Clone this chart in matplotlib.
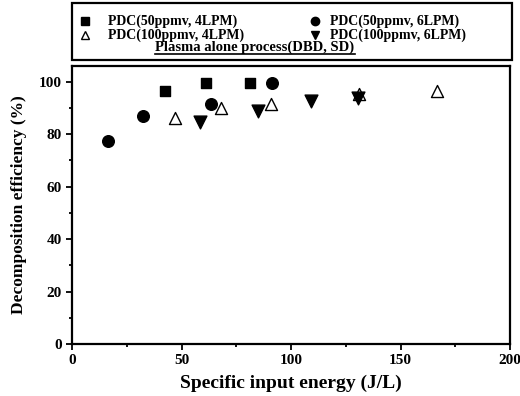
import matplotlib
matplotlib.use("Agg")
import matplotlib.pyplot as plt
from matplotlib.patches import Rectangle
from matplotlib.lines import Line2D
from matplotlib.ticker import MultipleLocator

# Data
sq_x = [42.4, 61.0, 81.2]
sq_y = [96.6, 99.7, 99.7]
ci_x = [16.4, 32.6, 63.3, 91.4]
ci_y = [77.5, 87.0, 91.7, 99.7]
tu_x = [47.0, 68.2, 90.7, 130.9, 166.6]
tu_y = [86.1, 89.8, 91.5, 95.3, 96.6]
td_x = [58.5, 84.9, 109.2, 130.6]
td_y = [84.5, 88.9, 92.7, 93.8]

labels = ["PDC(50ppmv, 4LPM)", "PDC(50ppmv, 6LPM)",
          "PDC(100ppmv, 4LPM)", "PDC(100ppmv, 6LPM)"]
title_text = "Plasma alone process(DBD, SD)"
xlabel = "Specific input energy (J/L)"
ylabel = "Decomposition efficiency (%)"

plt.rcParams['font.family'] = ['Liberation Serif', 'DejaVu Serif']
plt.rcParams['font.weight'] = 'bold'

W, H = 520, 396
fig = plt.figure(figsize=(W/100, H/100), dpi=100)
ax = fig.add_axes([72/W, 1-344/H, (510-72)/W, (344-66)/H])

ms = 60
ax.scatter(sq_x, sq_y, marker='s', s=ms, c='black', zorder=3)
ax.scatter(ci_x, ci_y, marker='o', s=ms+10, c='black', zorder=3)
ax.scatter(tu_x, tu_y, marker='^', s=ms+15, facecolors='white', edgecolors='black', linewidths=1.0, zorder=3)
ax.scatter(td_x, td_y, marker='v', s=ms+25, c='black', zorder=3)

ax.set_xlim(0, 200)
ax.set_ylim(0, 106)
ax.xaxis.set_major_locator(MultipleLocator(50))
ax.xaxis.set_minor_locator(MultipleLocator(25))
ax.yaxis.set_major_locator(MultipleLocator(20))
ax.yaxis.set_minor_locator(MultipleLocator(10))
ax.tick_params(which='both', direction='out', width=1.3, labelsize=11)
ax.tick_params(which='major', length=4)
ax.tick_params(which='minor', length=2.5)
for lab in ax.get_xticklabels() + ax.get_yticklabels():
    lab.set_fontweight('bold')
for sp in ax.spines.values():
    sp.set_linewidth(1.6)

ax.set_xlabel(xlabel, fontsize=14, fontweight='bold', labelpad=5)
ax.set_ylabel(ylabel, fontsize=12.5, fontweight='bold', labelpad=8)

# Legend box in figure pixel coords
def fx(px): return px / W
def fy(py): return 1 - py / H

fig.patches.append(Rectangle((fx(72), fy(60)), fx(512) - fx(72), fy(3) - fy(60),
                             transform=fig.transFigure, fill=False,
                             edgecolor='black', linewidth=1.6))

entries = [
    (85, 21, 's', 'black', 'black', labels[0], 108),
    (315, 21, 'o', 'black', 'black', labels[1], 330),
    (85, 35, '^', 'white', 'black', labels[2], 108),
    (315, 35, 'v', 'black', 'black', labels[3], 330),
]
for mx, my, mk, fc, ec, lab, tx in entries:
    fig.add_artist(Line2D([fx(mx)], [fy(my)], marker=mk, markersize=6,
                          markerfacecolor=fc, markeredgecolor=ec,
                          linestyle='none', transform=fig.transFigure))
    fig.text(fx(tx), fy(my), lab, fontsize=10, fontweight='bold',
             ha='left', va='center')

t = fig.text(fx(255), fy(47.5), title_text, fontsize=10.5, fontweight='bold',
             ha='center', va='center')
fig.canvas.draw()
bb = t.get_window_extent(renderer=fig.canvas.get_renderer())
fig.add_artist(Line2D([bb.x0 / W, bb.x1 / W], [fy(54), fy(54)], color='black',
                      linewidth=1.2, transform=fig.transFigure))

fig.savefig("out.png", dpi=100)
